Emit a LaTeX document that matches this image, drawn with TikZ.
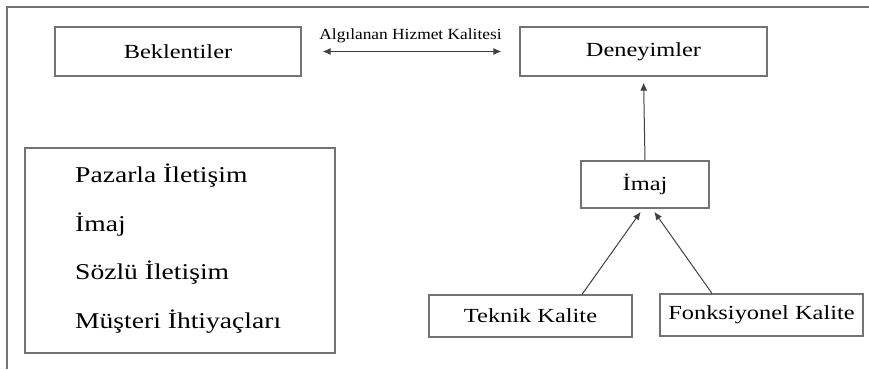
\documentclass[tikz,border=0pt]{standalone}
\usepackage{fontspec}
\setmainfont[FakeStretch=1.22]{Liberation Serif}
\newfontfamily\etiketfont[FakeStretch=1.12]{Liberation Serif}
\usepackage{tikz}
\usetikzlibrary{arrows.meta,positioning,calc}
\tikzset{
  box/.style={draw=black!55, line width=1.2pt, inner sep=0pt,
    font=\fontsize{20}{24}\selectfont},
  arrow/.style={-{Latex[length=8pt,width=7pt]}, draw=black!75, line width=1pt},
  frame/.style={draw=black!55, line width=1.6pt},
}

\begin{document}
\begin{tikzpicture}[x=1pt,y=-1pt]
  \useasboundingbox (0,0) rectangle (869,369);
  % page frame
  \draw[frame] (869,7) -- (7,7) -- (7,369);

  % top row
  \node[box, minimum width=246pt, minimum height=49pt] (bek) at (178,51.5) {Beklentiler};
  \node[box, minimum width=247pt, minimum height=49pt] (den) at (643.5,51.5) {Deneyimler};
  \draw[arrow, {Latex[length=8pt,width=7pt]}-{Latex[length=8pt,width=7pt]},
    shorten <=21pt, shorten >=18pt] (bek) -- (den)
    node[midway, above=5pt, font=\etiketfont\fontsize{15.5}{17}\selectfont] (ahk)
    {Algılanan Hizmet Kalitesi};

  % right side
  \node[box, minimum width=128pt, minimum height=47pt] (imaj) at (645,184.5) {İmaj};
  \node[box, minimum width=203pt, minimum height=42pt] (teknik) at (530.5,316) {Teknik Kalite};
  \node[box, minimum width=203pt, minimum height=42pt] (fonk) at (761.5,315) {Fonksiyonel Kalite};
  \draw[arrow, shorten >=6pt] (imaj.north) -- (den.south);
  \draw[arrow, shorten >=4pt] ([xshift=51.5pt]teknik.north) -- ([xshift=-2pt]imaj.south);
  \draw[arrow, shorten >=4pt] ([xshift=-49.5pt]fonk.north) -- ([xshift=7pt]imaj.south);

  % left list
  \node[box, minimum width=310pt, minimum height=205pt] (etken) at (180,250.5) {};
  \foreach \metin [count=\i] in {Pazarla İletişim, İmaj, Sözlü İletişim, Müşteri İhtiyaçları}{
    \node[anchor=west, inner sep=0pt, font=\fontsize{22.6}{26}\selectfont]
      (liste\i) at (75,{176+48.5*(\i-1)}) {\metin};
  }
\end{tikzpicture}
\end{document}
